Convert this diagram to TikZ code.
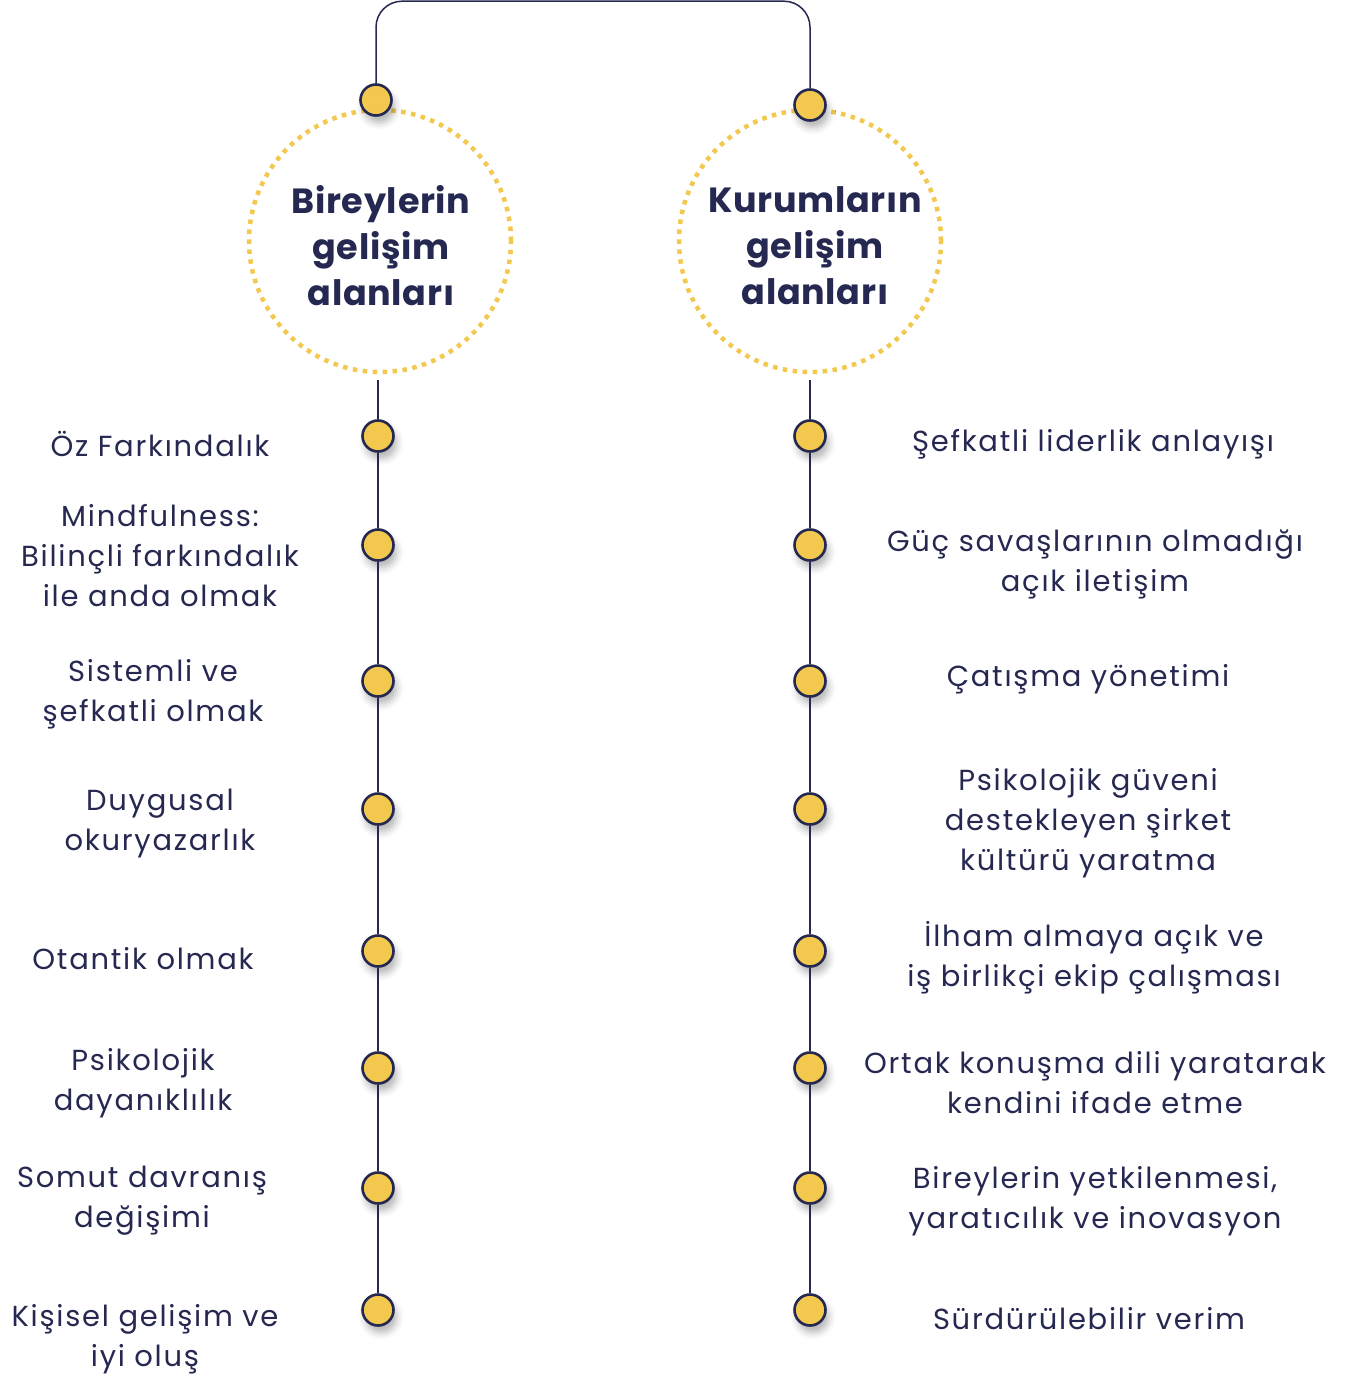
\documentclass[tikz,border=0pt]{standalone}
\usepackage{fontspec}
\setmainfont{Poppins}[LetterSpace=6]
\newfontfamily\titlefont{Poppins}[LetterSpace=2]
\usepackage{tikz}
\usetikzlibrary{calc}
\usetikzlibrary{shadows.blur}

\definecolor{navy}{HTML}{252850}
\definecolor{gold}{HTML}{F2C84E}

\tikzset{
  dot/.style={circle,draw=navy,line width=2.6pt,fill=gold,minimum size=31pt,inner sep=0pt,
    blur shadow={shadow xshift=3pt,shadow yshift=-7pt,shadow blur radius=7pt,shadow opacity=30}},
  ring/.style={circle,draw=gold,line width=4.5pt,dash pattern=on 4.5pt off 5.5pt,minimum size=262pt,inner sep=0pt},
  title/.style={font=\titlefont\fontsize{35}{46}\selectfont\bfseries,text=navy,align=center},
  item/.style={font=\fontsize{29}{40}\selectfont,text=navy,align=center},
  link/.style={draw=navy,line width=2.4pt},
}

\begin{document}
\begin{tikzpicture}[x=1pt,y=-1pt]
    \useasboundingbox (0,0) rectangle (1364,1383);
    % two circles with titles
    \node[ring] (LC) at (380,241) {};
    \node[ring] (RC) at (810,241) {};
    \node[title] (LTitle) at (381,246) {Bireylerin\\gelişim\\alanları};
    \node[title] (RTitle) at (815,246) {Kurumların\\gelişim\\alanları};
    % top dots and bracket
    \node[dot] (LT) at (376,100) {};
    \node[dot] (RT) at (810,105) {};
    \draw[draw=navy,line width=1.5pt,rounded corners=26pt] (LT.north) -- ++(0,-82) -| (RT.north);
    % dots
    \foreach \y [count=\i] in {436,545,681,809,951,1068,1188,1310} {
      \node[dot] (L\i) at (378,\y) {};
      \node[dot] (R\i) at (810,\y) {};
    }
    \coordinate (LS) at (378,380);
    \coordinate (RS) at (810,380);
    \draw[link] (LS) -- (L1.north);
    \draw[link] (RS) -- (R1.north);
    \foreach \i [count=\j from 2] in {1,...,7} {
      \draw[link] (L\i.south) -- (L\j.north);
      \draw[link] (R\i.south) -- (R\j.north);
    }
    % left items
    \node[item] (LA) at (160,444) {Öz Farkındalık};
    \node[item] (LB) at (160,556) {Mindfulness:\\Bilinçli farkındalık\\ile anda olmak};
    \node[item] (LC2) at (153,694) {Sistemli ve\\şefkatli olmak};
    \node[item] (LD) at (160,824) {Duygusal\\okuryazarlık};
    \node[item] (LE) at (143,959) {Otantik olmak};
    \node[item] (LF) at (143,1083) {Psikolojik\\dayanıklılık};
    \node[item] (LG) at (142,1201) {Somut davranış\\değişimi};
    \node[item] (LH) at (145,1339) {Kişisel gelişim ve\\iyi oluş};
    % right items
    \node[item] (RA) at (1093,444) {Şefkatli liderlik anlayışı};
    \node[item] (RB) at (1095,564) {Güç savaşlarının olmadığı\\açık iletişim};
    \node[item] (RC2) at (1088,679) {Çatışma yönetimi};
    \node[item] (RD) at (1088,823) {Psikolojik güveni\\destekleyen şirket\\kültürü yaratma};
    \node[item] (RE) at (1094,958) {İlham almaya açık ve\\iş birlikçi ekip çalışması};
    \node[item] (RF) at (1095,1083) {Ortak konuşma dili yaratarak\\kendini ifade etme};
    \node[item] (RG) at (1095,1201) {Bireylerin yetkilenmesi,\\yaratıcılık ve inovasyon};
    \node[item] (RH) at (1089,1319) {Sürdürülebilir verim};
\end{tikzpicture}
\end{document}
